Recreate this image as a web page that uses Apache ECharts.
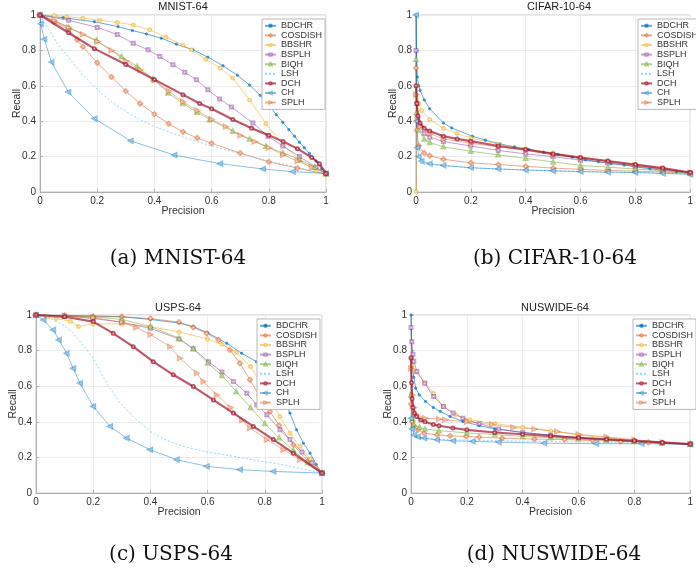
<!DOCTYPE html>
<html><head><meta charset="utf-8">
<script src="https://cdn.jsdelivr.net/npm/echarts@6/dist/echarts.min.js"></script>
<style>html,body{margin:0;padding:0;background:#fff}#c{width:696px;height:576px}</style>
</head><body><div id="c"></div>
<script>
const methods = ['BDCHR','COSDISH','BBSHR','BSPLH','BIQH','LSH','DCH','CH','SPLH'];
const panelTitles = ['MNIST-64','CIFAR-10-64','USPS-64','NUSWIDE-64'];
const captions = ['(a) MNIST-64','(b) CIFAR-10-64','(c) USPS-64','(d) NUSWIDE-64'];
const xAxisName = 'Precision';
const yAxisName = 'Recall';

// ---- MNIST-64 ----
const mnistBDCHR = [[0,1],[0.081,0.984],[0.19,0.962],[0.273,0.934],[0.323,0.912],[0.372,0.893],[0.424,0.869],[0.477,0.835],[0.535,0.803],[0.587,0.762],[0.64,0.713],[0.69,0.66],[0.733,0.604],[0.77,0.546],[0.8,0.488],[0.826,0.437],[0.849,0.394],[0.87,0.353],[0.89,0.315],[0.907,0.281],[0.924,0.25],[0.942,0.218],[0.965,0.175],[0.985,0.13],[1,0.105]];
const mnistCOSDISH = [[0,1],[0.05,0.96],[0.1,0.92],[0.13,0.86],[0.15,0.82],[0.2,0.73],[0.25,0.65],[0.3,0.57],[0.35,0.5],[0.4,0.44],[0.45,0.385],[0.5,0.34],[0.55,0.305],[0.6,0.275],[0.7,0.22],[0.8,0.17],[0.9,0.135],[1,0.1]];
const mnistBBSHR = [[0,1],[0.05,0.997],[0.093,0.99],[0.15,0.982],[0.21,0.97],[0.27,0.958],[0.326,0.944],[0.384,0.916],[0.44,0.875],[0.5,0.83],[0.53,0.803],[0.58,0.75],[0.63,0.7],[0.674,0.644],[0.733,0.52],[0.79,0.385],[0.85,0.265],[0.907,0.18],[0.965,0.118],[1,0.1]];
const mnistBSPLH = [[0,1],[0.1,0.97],[0.2,0.93],[0.27,0.89],[0.326,0.84],[0.378,0.803],[0.419,0.765],[0.465,0.719],[0.506,0.677],[0.547,0.634],[0.587,0.578],[0.628,0.525],[0.669,0.48],[0.744,0.39],[0.797,0.315],[0.849,0.26],[0.907,0.2],[0.965,0.14],[1,0.105]];
const mnistBIQH = [[0,1],[0.1,0.93],[0.198,0.856],[0.285,0.765],[0.34,0.71],[0.395,0.64],[0.448,0.56],[0.5,0.5],[0.55,0.45],[0.593,0.41],[0.674,0.343],[0.733,0.3],[0.79,0.259],[0.849,0.221],[0.907,0.184],[0.96,0.14],[1,0.105]];
const mnistLSH = [[0,1],[0.03,0.92],[0.06,0.84],[0.1,0.76],[0.15,0.66],[0.2,0.58],[0.25,0.51],[0.3,0.455],[0.35,0.41],[0.4,0.37],[0.5,0.31],[0.6,0.26],[0.7,0.215],[0.8,0.175],[0.9,0.14],[1,0.1]];
const mnistDCH = [[0,1],[0.1,0.9],[0.19,0.81],[0.3,0.72],[0.4,0.635],[0.5,0.55],[0.558,0.5],[0.6,0.47],[0.674,0.41],[0.74,0.36],[0.8,0.32],[0.85,0.285],[0.9,0.245],[0.95,0.195],[0.977,0.16],[1,0.105]];
const mnistCH = [[0,1],[0.003,0.95],[0.015,0.863],[0.04,0.734],[0.099,0.565],[0.19,0.415],[0.317,0.289],[0.47,0.208],[0.63,0.16],[0.78,0.13],[0.884,0.115],[1,0.105]];
const mnistSPLH = [[0,1],[0.05,0.97],[0.1,0.93],[0.15,0.89],[0.2,0.85],[0.25,0.8],[0.3,0.74],[0.35,0.69],[0.4,0.63],[0.45,0.57],[0.5,0.51],[0.55,0.46],[0.6,0.41],[0.65,0.37],[0.7,0.32],[0.75,0.285],[0.8,0.25],[0.85,0.21],[0.9,0.175],[0.95,0.14],[1,0.105]];

// ---- CIFAR-10-64 ----
const cifarBDCHR = [[0,1],[0.002,0.8],[0.005,0.65],[0.01,0.6],[0.015,0.574],[0.03,0.52],[0.05,0.47],[0.1,0.39],[0.13,0.362],[0.206,0.315],[0.253,0.293],[0.306,0.272],[0.359,0.255],[0.412,0.24],[0.465,0.225],[0.518,0.212],[0.57,0.197],[0.618,0.182],[0.665,0.171],[0.712,0.16],[0.759,0.152],[0.806,0.141],[0.853,0.131],[0.9,0.123],[0.95,0.115],[1,0.11]];
const cifarCOSDISH = [[0,0.7],[0.003,0.35],[0.01,0.26],[0.03,0.22],[0.05,0.205],[0.1,0.185],[0.2,0.165],[0.3,0.155],[0.4,0.145],[0.5,0.135],[0.6,0.128],[0.7,0.122],[0.8,0.118],[0.9,0.113],[1,0.105]];
const cifarBBSHR = [[0,0],[0,0.55],[0.002,0.6],[0.01,0.5],[0.02,0.46],[0.05,0.41],[0.1,0.36],[0.15,0.33],[0.2,0.305],[0.3,0.27],[0.4,0.245],[0.5,0.22],[0.6,0.195],[0.7,0.175],[0.8,0.155],[0.9,0.135],[1,0.11]];
const cifarBSPLH = [[0,0.8],[0.003,0.5],[0.01,0.38],[0.03,0.33],[0.05,0.31],[0.1,0.285],[0.2,0.26],[0.3,0.235],[0.4,0.215],[0.5,0.2],[0.6,0.18],[0.7,0.165],[0.8,0.145],[0.9,0.128],[1,0.11]];
const cifarBIQH = [[0,0.75],[0.003,0.45],[0.01,0.35],[0.03,0.3],[0.05,0.28],[0.1,0.255],[0.2,0.23],[0.3,0.21],[0.4,0.19],[0.5,0.17],[0.6,0.15],[0.7,0.14],[0.8,0.13],[0.9,0.12],[1,0.105]];
const cifarLSH = [[0,0.165],[0.05,0.155],[0.1,0.148],[0.2,0.138],[0.3,0.13],[0.4,0.125],[0.5,0.12],[0.6,0.116],[0.7,0.113],[0.8,0.11],[0.9,0.107],[1,0.1]];
const cifarDCH = [[0,0.6],[0.003,0.5],[0.007,0.43],[0.015,0.39],[0.03,0.36],[0.05,0.345],[0.1,0.315],[0.15,0.3],[0.2,0.287],[0.3,0.26],[0.4,0.24],[0.5,0.215],[0.6,0.195],[0.7,0.175],[0.8,0.155],[0.9,0.135],[1,0.11]];
const cifarCH = [[0,1],[0.002,0.4],[0.005,0.25],[0.01,0.2],[0.02,0.175],[0.05,0.16],[0.1,0.15],[0.2,0.137],[0.3,0.13],[0.4,0.124],[0.5,0.12],[0.6,0.115],[0.7,0.112],[0.8,0.11],[0.9,0.105],[1,0.1]];
const cifarSPLH = [[0,0.55],[0.005,0.42],[0.015,0.37],[0.05,0.33],[0.1,0.3],[0.2,0.275],[0.3,0.255],[0.4,0.235],[0.5,0.21],[0.6,0.19],[0.7,0.17],[0.8,0.15],[0.9,0.13],[1,0.11]];

// ---- USPS-64 ----
const uspsBDCHR = [[0,1],[0.1,0.998],[0.2,0.995],[0.3,0.99],[0.4,0.975],[0.5,0.955],[0.55,0.935],[0.6,0.9],[0.667,0.841],[0.719,0.785],[0.771,0.738],[0.818,0.664],[0.853,0.561],[0.888,0.449],[0.911,0.355],[0.935,0.28],[0.958,0.224],[0.98,0.16],[1,0.112]];
const uspsCOSDISH = [[0,1],[0.1,0.995],[0.2,0.99],[0.3,0.99],[0.4,0.98],[0.5,0.96],[0.55,0.93],[0.597,0.897],[0.638,0.86],[0.678,0.804],[0.713,0.729],[0.748,0.636],[0.78,0.55],[0.818,0.458],[0.85,0.38],[0.9,0.27],[0.95,0.18],[1,0.112]];
const uspsBBSHR = [[0,1],[0.04,0.99],[0.07,0.98],[0.12,0.965],[0.148,0.935],[0.2,0.95],[0.3,0.95],[0.4,0.935],[0.5,0.905],[0.6,0.865],[0.65,0.835],[0.7,0.79],[0.75,0.71],[0.783,0.626],[0.82,0.52],[0.853,0.43],[0.888,0.336],[0.923,0.262],[0.96,0.19],[1,0.112]];
const uspsBSPLH = [[0,1],[0.1,0.995],[0.2,0.98],[0.3,0.96],[0.4,0.925],[0.5,0.865],[0.55,0.81],[0.603,0.738],[0.65,0.68],[0.69,0.626],[0.737,0.561],[0.772,0.495],[0.807,0.439],[0.853,0.355],[0.888,0.3],[0.93,0.23],[0.965,0.17],[1,0.112]];
const uspsBIQH = [[0,1],[0.1,0.995],[0.2,0.99],[0.3,0.975],[0.4,0.935],[0.5,0.87],[0.55,0.81],[0.6,0.73],[0.65,0.66],[0.7,0.57],[0.75,0.48],[0.8,0.39],[0.85,0.31],[0.9,0.24],[0.95,0.17],[1,0.112]];
const uspsLSH = [[0,1],[0.05,0.98],[0.1,0.94],[0.13,0.897],[0.165,0.83],[0.2,0.757],[0.247,0.617],[0.294,0.505],[0.34,0.43],[0.399,0.346],[0.45,0.3],[0.515,0.262],[0.6,0.23],[0.69,0.206],[0.78,0.18],[0.865,0.159],[0.93,0.135],[1,0.112]];
const uspsDCH = [[0,1],[0.1,0.99],[0.2,0.963],[0.27,0.897],[0.34,0.822],[0.41,0.738],[0.48,0.664],[0.55,0.598],[0.62,0.523],[0.69,0.449],[0.76,0.374],[0.83,0.3],[0.9,0.224],[1,0.112]];
const uspsCH = [[0,1],[0.026,0.972],[0.06,0.916],[0.08,0.86],[0.107,0.785],[0.13,0.7],[0.154,0.617],[0.2,0.486],[0.259,0.374],[0.317,0.308],[0.399,0.243],[0.492,0.187],[0.597,0.15],[0.713,0.131],[0.83,0.121],[1,0.112]];
const uspsSPLH = [[0,1],[0.1,0.995],[0.2,0.985],[0.3,0.96],[0.35,0.93],[0.4,0.89],[0.469,0.822],[0.503,0.757],[0.562,0.673],[0.585,0.626],[0.632,0.551],[0.68,0.48],[0.72,0.41],[0.748,0.365],[0.807,0.3],[0.865,0.243],[0.923,0.187],[1,0.112]];

// ---- NUSWIDE-64 ----
const nusBDCHR = [[0,1],[0.002,0.85],[0.005,0.72],[0.01,0.65],[0.017,0.589],[0.03,0.55],[0.052,0.514],[0.08,0.48],[0.105,0.458],[0.14,0.43],[0.186,0.402],[0.244,0.378],[0.3,0.36],[0.4,0.34],[0.5,0.325],[0.6,0.31],[0.7,0.3],[0.8,0.29],[0.9,0.28],[1,0.275]];
const nusCOSDISH = [[0,0.5],[0.005,0.4],[0.01,0.375],[0.025,0.355],[0.047,0.336],[0.093,0.327],[0.14,0.321],[0.198,0.318],[0.244,0.314],[0.326,0.308],[0.442,0.303],[0.55,0.3],[0.65,0.295],[0.75,0.29],[0.85,0.285],[1,0.275]];
const nusBBSHR = [[0,0.75],[0.005,0.72],[0.017,0.68],[0.05,0.62],[0.08,0.56],[0.116,0.486],[0.16,0.44],[0.21,0.411],[0.3,0.39],[0.4,0.37],[0.5,0.35],[0.6,0.325],[0.7,0.31],[0.8,0.295],[0.9,0.283],[1,0.275]];
const nusBSPLH = [[0,0.93],[0.003,0.85],[0.007,0.78],[0.01,0.74],[0.021,0.682],[0.049,0.617],[0.081,0.542],[0.116,0.486],[0.151,0.449],[0.186,0.42],[0.244,0.389],[0.314,0.36],[0.4,0.34],[0.5,0.325],[0.6,0.31],[0.7,0.3],[0.8,0.29],[0.9,0.28],[1,0.275]];
const nusBIQH = [[0,0.55],[0.005,0.42],[0.01,0.385],[0.03,0.37],[0.05,0.36],[0.1,0.35],[0.2,0.338],[0.3,0.328],[0.4,0.318],[0.5,0.31],[0.6,0.303],[0.7,0.297],[0.8,0.29],[0.9,0.282],[1,0.275]];
const nusLSH = [[0,0.32],[0.05,0.305],[0.2,0.297],[0.4,0.292],[0.6,0.287],[0.8,0.282],[1,0.275]];
const nusDCH = [[0,0.76],[0.002,0.62],[0.004,0.53],[0.007,0.48],[0.012,0.45],[0.02,0.43],[0.035,0.41],[0.05,0.4],[0.08,0.385],[0.1,0.378],[0.15,0.365],[0.2,0.355],[0.3,0.34],[0.4,0.33],[0.5,0.32],[0.6,0.31],[0.7,0.302],[0.8,0.293],[0.9,0.284],[1,0.275]];
const nusCH = [[0,0.42],[0.004,0.36],[0.012,0.327],[0.025,0.315],[0.047,0.308],[0.093,0.299],[0.151,0.293],[0.221,0.29],[0.314,0.286],[0.477,0.28],[0.663,0.277],[0.826,0.277],[1,0.273]];
const nusSPLH = [[0,0.7],[0.005,0.55],[0.01,0.48],[0.02,0.44],[0.05,0.42],[0.1,0.415],[0.122,0.411],[0.2,0.4],[0.29,0.385],[0.366,0.368],[0.442,0.359],[0.523,0.345],[0.6,0.33],[0.7,0.315],[0.8,0.3],[0.9,0.285],[1,0.275]];

const panelData = [
  [mnistBDCHR, mnistCOSDISH, mnistBBSHR, mnistBSPLH, mnistBIQH, mnistLSH, mnistDCH, mnistCH, mnistSPLH],
  [cifarBDCHR, cifarCOSDISH, cifarBBSHR, cifarBSPLH, cifarBIQH, cifarLSH, cifarDCH, cifarCH, cifarSPLH],
  [uspsBDCHR, uspsCOSDISH, uspsBBSHR, uspsBSPLH, uspsBIQH, uspsLSH, uspsDCH, uspsCH, uspsSPLH],
  [nusBDCHR, nusCOSDISH, nusBBSHR, nusBSPLH, nusBIQH, nusLSH, nusDCH, nusCH, nusSPLH]
];

// ---- styles ----
const styles = {
  BDCHR:  {c:'rgba(0,114,189,0.6)',   sym:'circle', size:2.5, rot:0},
  COSDISH:{c:'rgba(217,83,25,0.5)',   sym:'emptyDiamond', size:4, rot:0},
  BBSHR:  {c:'rgba(237,177,32,0.55)', sym:'emptyCircle', size:3, rot:0},
  BSPLH:  {c:'rgba(126,47,142,0.45)', sym:'emptyRect', size:3, rot:0},
  BIQH:   {c:'rgba(119,172,48,0.55)', sym:'emptyTriangle', size:3.5, rot:0},
  LSH:    {c:'rgba(77,190,238,0.6)',  sym:'none', size:0, rot:0, dash:[2,2]},
  DCH:    {c:'rgba(162,20,47,0.7)',   sym:'emptyCircle', size:3, rot:0, w:2.2},
  CH:     {c:'rgba(0,114,189,0.45)',  sym:'emptyTriangle', size:4, rot:90},
  SPLH:   {c:'rgba(217,83,25,0.42)',  sym:'emptyTriangle', size:4, rot:-90}
};
const grids = [
  {left:40, top:15, width:286, height:177},
  {left:416, top:15, width:281, height:177},
  {left:36, top:315, width:286, height:178},
  {left:411, top:315, width:286, height:178}
];
const legendPos = [[262,19],[638,19],[257,319],[633,319]];
const titlePos = [[183,7],[559,7],[178,308],[555,308]];
const captionPos = [[178,259],[555,259],[171,555],[554,555]];
const font = "'Liberation Sans', Arial, Helvetica, sans-serif";

const legendData = methods.map(m => m === 'LSH' ? {name:m, itemStyle:{opacity:0}} : {name:m});

const xAxes = [], yAxes = [], series = [], legends = [], graphics = [];
grids.forEach((g, i) => {
  g.show = true; g.borderColor = '#c8c8c8'; g.borderWidth = 1; g.backgroundColor = '#fff';
  xAxes.push({type:'value', gridIndex:i, min:0, max:1, interval:0.2,
    name:xAxisName, nameLocation:'middle', nameGap:14, nameMoveOverlap:false,
    nameTextStyle:{fontFamily:font, fontSize:10.5, color:'#333'},
    axisLine:{show:true, lineStyle:{color:'#b0b0b0'}},
    axisTick:{show:true, inside:true, length:3, lineStyle:{color:'#b0b0b0'}},
    axisLabel:{fontFamily:font, fontSize:10, color:'#333', margin:4},
    splitLine:{show:true, lineStyle:{color:'#ececec'}}});
  yAxes.push({type:'value', gridIndex:i, min:0, max:1, interval:0.2,
    name:yAxisName, nameLocation:'middle', nameGap:17, nameRotate:90, nameMoveOverlap:false,
    nameTextStyle:{fontFamily:font, fontSize:10.5, color:'#333'},
    axisLine:{show:true, lineStyle:{color:'#b0b0b0'}},
    axisTick:{show:true, inside:true, length:3, lineStyle:{color:'#b0b0b0'}},
    axisLabel:{fontFamily:font, fontSize:10, color:'#333', margin:4},
    splitLine:{show:true, lineStyle:{color:'#ececec'}}});
  methods.forEach((m, k) => {
    const s = styles[m];
    series.push({type:'line', name:m, xAxisIndex:i, yAxisIndex:i, data:panelData[i][k],
      symbol:s.sym, symbolSize:s.size, symbolRotate:s.rot, showSymbol:s.sym !== 'none',
      smooth:false, animation:false, z: (m==='DCH'?3:2),
      lineStyle:{color:s.c, width:s.w||1, type:s.dash||'solid'},
      itemStyle:{color:s.c, borderColor:s.c, borderWidth:0.8}});
  });
  legends.push({left:legendPos[i][0], top:legendPos[i][1], orient:'vertical', data:legendData,
    itemWidth:11, itemHeight:3, itemGap:0, padding:[2,3,2,2],
    backgroundColor:'#fff', borderColor:'#b8b8b8', borderWidth:1, borderRadius:0,
    textStyle:{fontFamily:font, fontSize:9, color:'#333', lineHeight:9.6, padding:0},
    selectedMode:false});
  graphics.push({type:'text', x:titlePos[i][0], y:titlePos[i][1],
    style:{text:panelTitles[i], fill:'#222', font:"11px 'Liberation Sans', Arial, sans-serif", textAlign:'center', textVerticalAlign:'middle'}});
  graphics.push({type:'text', x:captionPos[i][0], y:captionPos[i][1],
    style:{text:captions[i], fill:'#111', font:"20px 'DejaVu Serif', serif", textAlign:'center', textVerticalAlign:'middle'}});
});

const chart = echarts.init(document.getElementById('c'), null, {renderer:'canvas'});
chart.setOption({
  animation:false,
  backgroundColor:'#fff',
  grid:grids, xAxis:xAxes, yAxis:yAxes, series:series, legend:legends, graphic:graphics
});
</script>
</body></html>
